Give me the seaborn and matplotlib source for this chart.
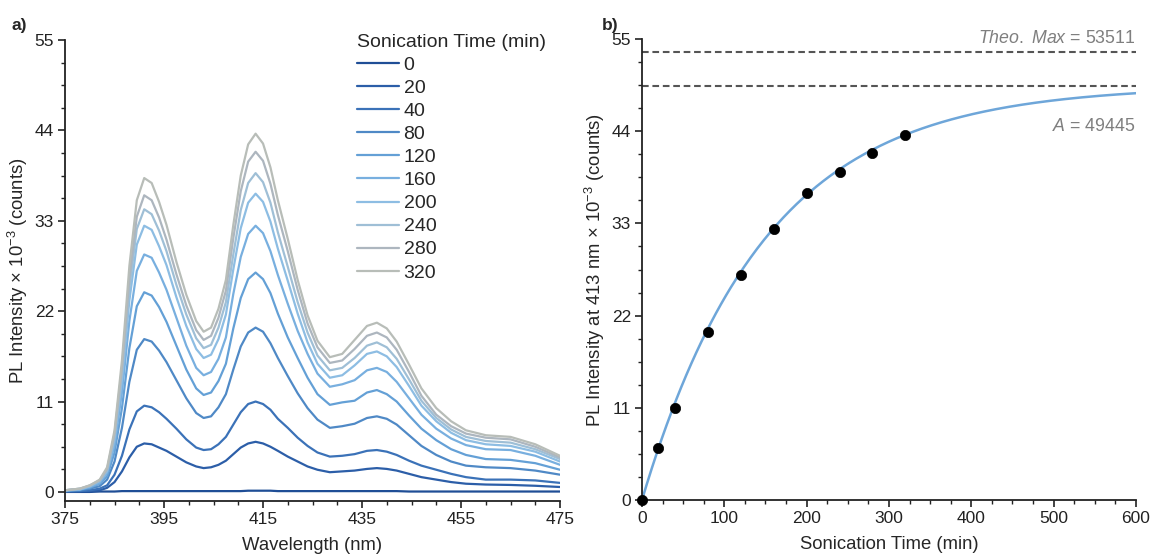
import numpy as np
import pandas as pd
import matplotlib
matplotlib.use("Agg")
import matplotlib.pyplot as plt
from matplotlib.ticker import MultipleLocator
import seaborn as sns

# ---------------- data ----------------
wavelength = [375, 378, 380, 382, 383.5, 385, 386.5, 388, 389.5, 391, 392.5, 394, 395.5,
              397.5, 399.5, 401.5, 403, 404.5, 406, 407.5, 409, 410.5, 412, 413.5, 415,
              416.5, 418, 420, 422, 424, 426, 428.5, 431, 433.5, 436, 438, 440, 442,
              444.5, 447, 450, 453, 456, 460, 465, 470, 475]

sonication_times = ["0", "20", "40", "80", "120", "160", "200", "240", "280", "320"]

pl_0 = [0.0, 0.0, 0.0, 0.05, 0.05, 0.05, 0.1, 0.1, 0.1, 0.1, 0.1, 0.1, 0.1,
        0.1, 0.1, 0.1, 0.1, 0.1, 0.1, 0.1, 0.1, 0.1, 0.15, 0.15, 0.15,
        0.15, 0.1, 0.1, 0.1, 0.1, 0.1, 0.1, 0.1, 0.1, 0.1, 0.1, 0.1, 0.1,
        0.05, 0.05, 0.05, 0.05, 0.05, 0.05, 0.05, 0.05, 0.05]
pl_20 = [0.0, 0.1, 0.1, 0.2, 0.5, 1.2, 2.5, 4.2, 5.5, 5.9, 5.8, 5.4, 5.0,
         4.3, 3.6, 3.1, 2.9, 3.0, 3.3, 3.8, 4.6, 5.4, 5.9, 6.1, 5.9,
         5.5, 5.0, 4.3, 3.7, 3.1, 2.7, 2.4, 2.5, 2.6, 2.8, 2.9, 2.8, 2.6,
         2.2, 1.8, 1.5, 1.2, 1.0, 0.9, 0.85, 0.75, 0.6]
pl_40 = [0.1, 0.1, 0.2, 0.4, 0.8, 2.1, 4.4, 7.6, 9.8, 10.5, 10.3, 9.7, 8.9,
         7.7, 6.4, 5.4, 5.1, 5.2, 5.8, 6.7, 8.2, 9.7, 10.7, 11.0, 10.7,
         10.0, 8.9, 7.8, 6.6, 5.6, 4.8, 4.3, 4.4, 4.6, 5.0, 5.1, 4.9, 4.5,
         3.8, 3.2, 2.7, 2.2, 1.8, 1.5, 1.5, 1.4, 1.1]
pl_80 = [0.1, 0.2, 0.4, 0.7, 1.5, 3.7, 7.8, 13.4, 17.3, 18.6, 18.3, 17.2, 15.8,
         13.6, 11.4, 9.6, 9.0, 9.2, 10.3, 11.9, 14.9, 17.7, 19.4, 20.0, 19.5,
         18.1, 16.3, 14.1, 12.0, 10.2, 8.8, 7.8, 8.0, 8.3, 9.0, 9.2, 8.9, 8.2,
         6.9, 5.6, 4.5, 3.7, 3.2, 3.0, 2.9, 2.6, 2.1]
pl_120 = [0.1, 0.3, 0.5, 1.0, 1.9, 4.8, 10.2, 17.5, 22.6, 24.3, 23.9, 22.5, 20.7,
          17.8, 14.9, 12.6, 11.8, 12.1, 13.5, 15.6, 19.9, 23.6, 25.9, 26.7, 25.9,
          24.2, 21.7, 18.8, 16.3, 13.9, 11.9, 10.6, 10.9, 11.1, 12.1, 12.4, 11.9, 11.0,
          9.3, 7.7, 6.3, 5.2, 4.5, 4.0, 3.9, 3.5, 2.7]
pl_160 = [0.2, 0.3, 0.6, 1.1, 2.3, 5.7, 12.1, 20.8, 26.9, 28.9, 28.5, 26.7, 24.6,
          21.2, 17.8, 15.1, 14.2, 14.6, 16.2, 18.8, 24.1, 28.6, 31.4, 32.4, 31.5,
          29.3, 26.4, 22.9, 19.6, 16.8, 14.4, 12.8, 13.1, 13.6, 14.8, 15.1, 14.6, 13.4,
          11.4, 9.4, 7.7, 6.5, 5.7, 5.2, 5.1, 4.4, 3.3]
pl_200 = [0.2, 0.3, 0.7, 1.3, 2.5, 6.4, 13.6, 23.3, 30.1, 32.4, 31.9, 29.9, 27.6,
          23.7, 20.2, 17.4, 16.3, 16.7, 18.6, 21.6, 27.1, 32.1, 35.2, 36.3, 35.3,
          32.9, 29.6, 25.7, 21.7, 18.2, 15.6, 13.9, 14.2, 15.4, 16.8, 17.1, 16.5, 15.2,
          12.9, 10.5, 8.6, 7.2, 6.3, 5.8, 5.6, 4.9, 3.7]
pl_240 = [0.2, 0.4, 0.7, 1.4, 2.7, 6.8, 14.4, 24.8, 32.0, 34.4, 33.8, 31.8, 29.3,
          25.2, 21.6, 18.7, 17.5, 17.9, 20.0, 23.1, 28.9, 34.3, 37.6, 38.8, 37.7,
          35.2, 31.6, 27.4, 23.1, 19.4, 16.6, 14.8, 15.1, 16.3, 17.8, 18.2, 17.6, 16.2,
          13.7, 11.1, 9.0, 7.6, 6.7, 6.2, 6.0, 5.2, 4.0]
pl_280 = [0.2, 0.4, 0.8, 1.4, 2.8, 7.1, 15.1, 26.0, 33.5, 36.1, 35.5, 33.4, 30.7,
          26.5, 22.7, 19.7, 18.5, 19.0, 21.2, 24.5, 30.9, 36.6, 40.2, 41.4, 40.3,
          37.5, 33.7, 29.3, 24.6, 20.5, 17.6, 15.7, 16.0, 17.4, 19.0, 19.4, 18.8, 17.3,
          14.6, 11.7, 9.4, 8.0, 7.1, 6.6, 6.4, 5.5, 4.2]
pl_320 = [0.2, 0.4, 0.8, 1.5, 3.0, 7.5, 16.0, 27.5, 35.5, 38.2, 37.6, 35.3, 32.5,
          28.0, 24.0, 20.8, 19.5, 20.0, 22.3, 25.8, 32.5, 38.5, 42.3, 43.6, 42.4,
          39.5, 35.5, 30.8, 25.8, 21.5, 18.4, 16.4, 16.8, 18.5, 20.2, 20.6, 19.9, 18.3,
          15.5, 12.6, 10.2, 8.6, 7.5, 6.9, 6.7, 5.8, 4.4]

spectra = [pl_0, pl_20, pl_40, pl_80, pl_120, pl_160, pl_200, pl_240, pl_280, pl_320]

# panel b: intensity at 413 nm
time_min = [0, 20, 40, 80, 120, 160, 200, 240, 280, 320]
pl_413 = [0.0, 6.2, 11.0, 20.0, 26.8, 32.3, 36.6, 39.1, 41.4, 43.5]

# exponential rise fit parameters (PL x 1e-3)
fit_A = 49.445
fit_tau = 150.0
theo_max = 53.511

palette = ["#1f4e96", "#2c5ea8", "#3b72b8", "#4f89c6", "#64a0d6",
           "#78afdf", "#8dbde3", "#9fbfd6", "#adb6bf", "#b8bdb8"]

# ---------------- style ----------------
sns.set_theme(style="ticks")
plt.rcParams["font.family"] = ["Liberation Sans", "DejaVu Sans"]
plt.rcParams["mathtext.fontset"] = "custom"
plt.rcParams["mathtext.rm"] = "Liberation Sans"
plt.rcParams["mathtext.it"] = "Liberation Sans:italic"
plt.rcParams["mathtext.bf"] = "Liberation Sans:bold"
plt.rcParams["axes.unicode_minus"] = True

FS = 12.5      # tick labels
FL = 13.3      # axis labels
FLEG = 14      # legend

fig = plt.figure(figsize=(11.53, 5.58), dpi=100)
axL = fig.add_axes([0.0564, 0.1022, 0.4293, 0.8261])
axR = fig.add_axes([0.5568, 0.1040, 0.4284, 0.8260])

# ---------------- panel a ----------------
rows = []
for t, vals in zip(sonication_times, spectra):
    for w, v in zip(wavelength, vals):
        rows.append({"Wavelength": w, "PL": v, "Time": t})
df = pd.DataFrame(rows)

sns.lineplot(data=df, x="Wavelength", y="PL", hue="Time", hue_order=sonication_times,
             palette=palette, linewidth=1.6, ax=axL, legend=True, sort=False)

handles, labels = axL.get_legend_handles_labels()
leg = axL.legend(handles, labels, title="Sonication Time (min)", loc="upper left",
                 bbox_to_anchor=(0.574, 1.030), frameon=False, fontsize=FLEG,
                 title_fontsize=FLEG, handlelength=2.15, handletextpad=0.25,
                 labelspacing=0.28, alignment="left", borderaxespad=0)

axL.set_xlim(375, 475)
axL.set_ylim(-1.1, 55)
axL.set_xticks([375, 395, 415, 435, 455, 475])
axL.set_yticks([0, 11, 22, 33, 44, 55])
axL.xaxis.set_minor_locator(MultipleLocator(5))
axL.yaxis.set_minor_locator(MultipleLocator(2.75))
axL.set_xlabel("Wavelength (nm)", fontsize=FL, labelpad=7)
axL.set_ylabel(r"PL Intensity × 10$^{-3}$ (counts)", fontsize=FL, labelpad=3)

# ---------------- panel b ----------------
t_fit = np.linspace(0, 600, 301)
y_fit = fit_A * (1 - np.exp(-t_fit / fit_tau))
fit_df = pd.DataFrame({"t": t_fit, "y": y_fit})
pts_df = pd.DataFrame({"t": time_min, "y": pl_413})

axR.axhline(theo_max, color="#555555", lw=1.5, ls=(0, (3.2, 1.8)), zorder=1)
axR.axhline(fit_A, color="#555555", lw=1.5, ls=(0, (3.2, 1.8)), zorder=1)
sns.lineplot(data=fit_df, x="t", y="y", color="#6ea6d9", linewidth=1.8, ax=axR, zorder=2)
sns.scatterplot(data=pts_df, x="t", y="y", color="black", s=55, edgecolor="black",
                linewidth=0.5, ax=axR, zorder=3, clip_on=False)

axR.text(600, 54.1, r"$\mathit{Theo.}$ $\mathit{Max}$ = 53511", ha="right", va="bottom",
         color="#7f7f7f", fontsize=FS + 0.3)
axR.text(600, 44.6, r"$\mathit{A}$ = 49445", ha="right", va="center",
         color="#7f7f7f", fontsize=FS + 0.3)

axR.set_xlim(0, 600)
axR.set_ylim(0, 55)
axR.set_xticks([0, 100, 200, 300, 400, 500, 600])
axR.set_yticks([0, 11, 22, 33, 44, 55])
axR.xaxis.set_minor_locator(MultipleLocator(25))
axR.yaxis.set_minor_locator(MultipleLocator(2.75))
axR.set_xlabel("Sonication Time (min)", fontsize=FL, labelpad=7)
axR.set_ylabel(r"PL Intensity at 413 nm × 10$^{-3}$ (counts)", fontsize=FL, labelpad=3)

for ax in (axL, axR):
    sns.despine(ax=ax)
    for s in ("left", "bottom"):
        ax.spines[s].set_linewidth(1.3)
        ax.spines[s].set_color("#222222")
    ax.tick_params(which="major", direction="out", length=5, width=1.2,
                   labelsize=FS, colors="#222222", pad=3)
    ax.tick_params(which="minor", direction="out", length=3, width=1.0, colors="#222222")

fig.text(0.010, 0.955, "a)", fontsize=FS, fontweight="bold", ha="left", va="center")
fig.text(0.522, 0.955, "b)", fontsize=FS, fontweight="bold", ha="left", va="center")

fig.savefig("out.png", dpi=100)
